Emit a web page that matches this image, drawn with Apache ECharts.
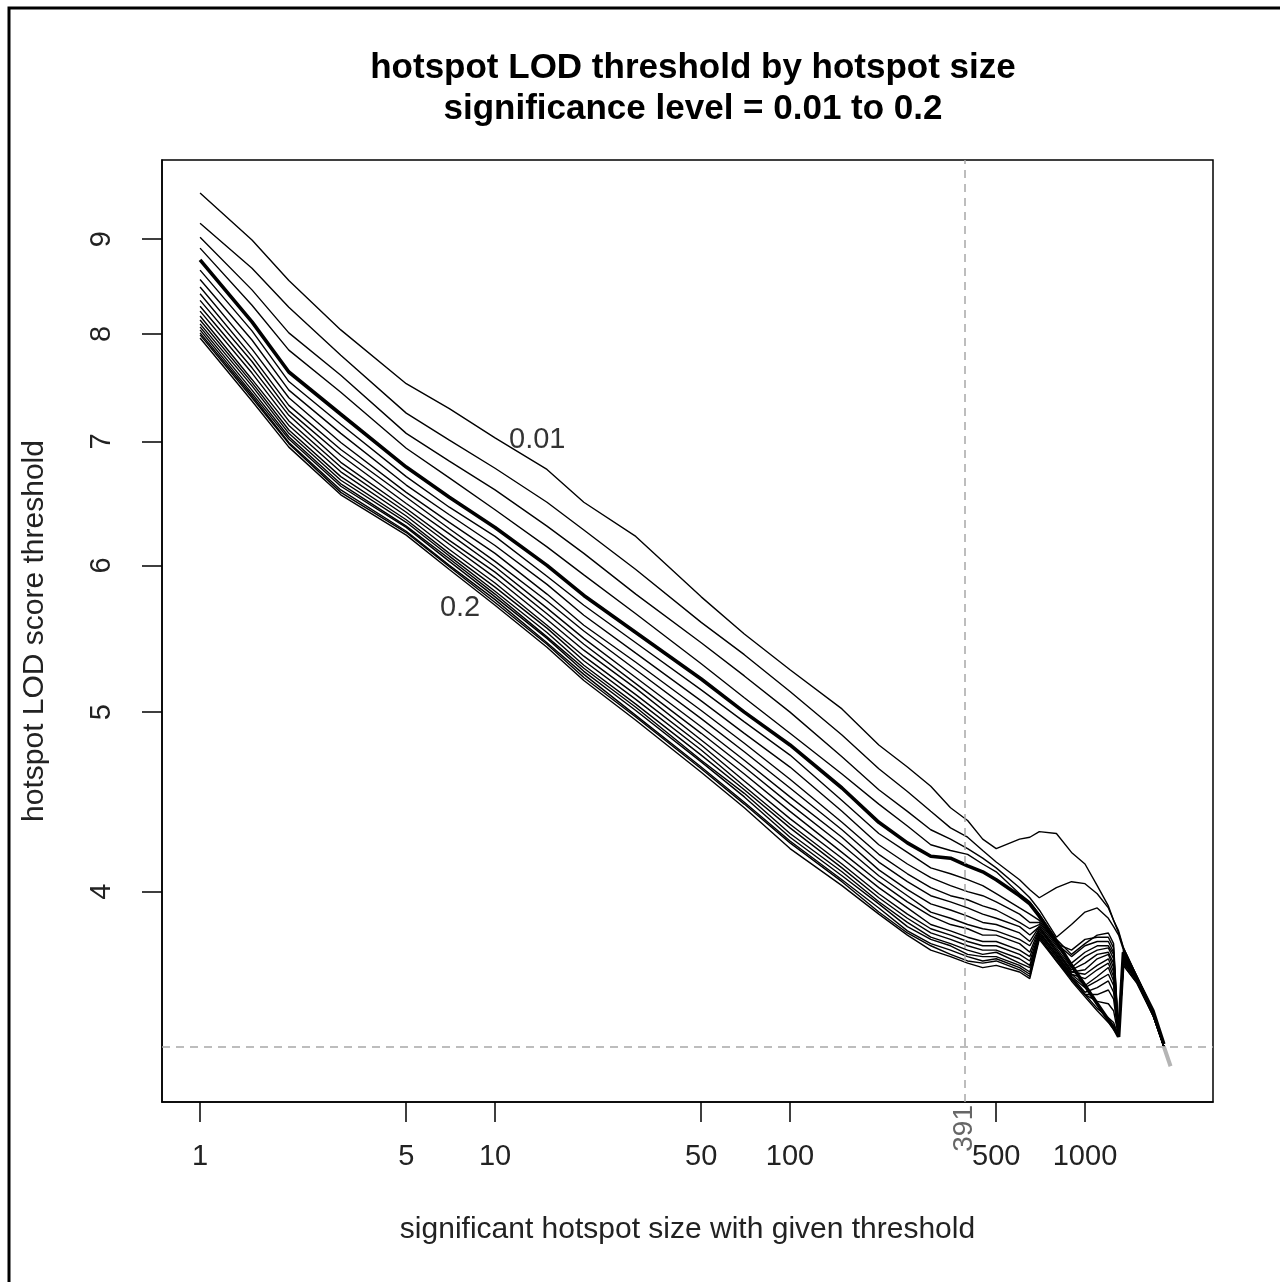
<!DOCTYPE html>
<html>
<head>
<meta charset="utf-8">
<title>hotspot LOD threshold by hotspot size</title>
<script src="https://cdn.jsdelivr.net/npm/echarts@6.0.0/dist/echarts.min.js"></script>
<style>
    html, body { margin: 0; padding: 0; background: #fff; }
    #chart { width: 1280px; height: 1282px; }
</style>
</head>
<body>
<div id="chart"></div>
<script>
// hotspot sizes (x) shared by every curve
var sizes = [1, 1.5, 2, 3, 5, 7, 10, 15, 20, 30, 50, 70, 100, 150, 200, 250, 300, 350, 400, 450, 500,
             600, 650, 700, 800, 900, 1000, 1100, 1200, 1250, 1300, 1350, 1500, 1700, 1850];

var levels = ['0.01', '0.02', '0.03', '0.04', '0.05', '0.06', '0.07', '0.08', '0.09', '0.10',
              '0.11', '0.12', '0.13', '0.14', '0.15', '0.16', '0.17', '0.18', '0.19', '0.20'];

// LOD threshold for each significance level
var lod01 = [9.53, 8.99, 8.55, 8.04, 7.52, 7.29, 7.03, 6.76, 6.49, 6.22, 5.77, 5.51, 5.27, 5.02, 4.80, 4.67, 4.56, 4.44, 4.37, 4.27, 4.22, 4.27, 4.28, 4.31, 4.30, 4.20, 4.14, 4.03, 3.93, 3.86, 3.81, 3.73, 3.60, 3.45, 3.31];
var lod02 = [9.18, 8.68, 8.27, 7.79, 7.25, 7.01, 6.77, 6.49, 6.27, 5.97, 5.59, 5.37, 5.13, 4.86, 4.66, 4.53, 4.42, 4.33, 4.28, 4.21, 4.15, 4.06, 4.01, 3.97, 4.02, 4.05, 4.04, 3.99, 3.92, 3.86, 3.80, 3.73, 3.60, 3.45, 3.31];
var lod03 = [9.02, 8.45, 8.01, 7.60, 7.07, 6.83, 6.59, 6.30, 6.09, 5.79, 5.45, 5.23, 5.00, 4.73, 4.54, 4.42, 4.32, 4.27, 4.22, 4.17, 4.12, 4.02, 3.97, 3.91, 3.78, 3.84, 3.90, 3.92, 3.87, 3.83, 3.79, 3.72, 3.60, 3.45, 3.31];
var lod04 = [8.90, 8.29, 7.84, 7.44, 6.94, 6.69, 6.43, 6.14, 5.93, 5.65, 5.31, 5.09, 4.87, 4.63, 4.46, 4.34, 4.24, 4.21, 4.19, 4.14, 4.10, 3.99, 3.95, 3.89, 3.77, 3.70, 3.75, 3.79, 3.80, 3.75, 3.35, 3.72, 3.59, 3.45, 3.31];
var lod05 = [8.77, 8.12, 7.63, 7.24, 6.78, 6.53, 6.29, 6.00, 5.78, 5.52, 5.21, 5.00, 4.80, 4.55, 4.36, 4.25, 4.18, 4.17, 4.13, 4.10, 4.06, 3.98, 3.94, 3.88, 3.76, 3.65, 3.56, 3.48, 3.41, 3.38, 3.34, 3.71, 3.59, 3.45, 3.31];
var lod06 = [8.66, 8.03, 7.54, 7.15, 6.70, 6.45, 6.22, 5.92, 5.71, 5.45, 5.14, 4.94, 4.74, 4.48, 4.30, 4.20, 4.12, 4.09, 4.06, 4.03, 3.99, 3.92, 3.89, 3.86, 3.75, 3.72, 3.77, 3.78, 3.78, 3.73, 3.35, 3.71, 3.59, 3.44, 3.30];
var lod07 = [8.56, 7.94, 7.46, 7.07, 6.63, 6.39, 6.15, 5.86, 5.64, 5.38, 5.07, 4.87, 4.67, 4.42, 4.24, 4.14, 4.07, 4.03, 4.00, 3.98, 3.95, 3.89, 3.85, 3.85, 3.75, 3.69, 3.74, 3.76, 3.76, 3.71, 3.35, 3.71, 3.59, 3.44, 3.30];
var lod08 = [8.48, 7.85, 7.39, 6.99, 6.57, 6.33, 6.09, 5.79, 5.57, 5.32, 5.01, 4.81, 4.60, 4.36, 4.19, 4.09, 4.02, 3.98, 3.96, 3.93, 3.91, 3.85, 3.82, 3.84, 3.74, 3.66, 3.71, 3.74, 3.74, 3.70, 3.35, 3.70, 3.59, 3.44, 3.30];
var lod09 = [8.41, 7.78, 7.32, 6.93, 6.53, 6.28, 6.03, 5.74, 5.53, 5.27, 4.96, 4.76, 4.55, 4.32, 4.15, 4.05, 3.98, 3.95, 3.92, 3.89, 3.87, 3.83, 3.79, 3.83, 3.73, 3.64, 3.69, 3.72, 3.73, 3.68, 3.35, 3.70, 3.59, 3.44, 3.30];
var lod10 = [8.34, 7.73, 7.27, 6.88, 6.48, 6.24, 5.99, 5.69, 5.48, 5.22, 4.91, 4.71, 4.50, 4.28, 4.11, 4.01, 3.94, 3.91, 3.88, 3.85, 3.84, 3.80, 3.76, 3.83, 3.72, 3.63, 3.66, 3.70, 3.71, 3.66, 3.35, 3.70, 3.59, 3.44, 3.30];
var lod11 = [8.28, 7.67, 7.23, 6.82, 6.44, 6.19, 5.95, 5.65, 5.44, 5.18, 4.87, 4.67, 4.46, 4.24, 4.08, 3.98, 3.90, 3.87, 3.84, 3.82, 3.81, 3.77, 3.74, 3.82, 3.72, 3.62, 3.63, 3.68, 3.70, 3.64, 3.35, 3.69, 3.59, 3.44, 3.30];
var lod12 = [8.23, 7.62, 7.18, 6.78, 6.41, 6.16, 5.91, 5.61, 5.40, 5.15, 4.83, 4.63, 4.42, 4.20, 4.05, 3.95, 3.88, 3.84, 3.82, 3.79, 3.79, 3.75, 3.71, 3.82, 3.71, 3.62, 3.61, 3.65, 3.68, 3.62, 3.34, 3.69, 3.59, 3.44, 3.30];
var lod13 = [8.18, 7.56, 7.14, 6.74, 6.38, 6.12, 5.87, 5.57, 5.36, 5.11, 4.80, 4.59, 4.38, 4.17, 4.02, 3.92, 3.84, 3.81, 3.78, 3.76, 3.76, 3.72, 3.69, 3.81, 3.70, 3.61, 3.59, 3.63, 3.66, 3.60, 3.34, 3.68, 3.58, 3.44, 3.30];
var lod14 = [8.14, 7.53, 7.10, 6.70, 6.35, 6.09, 5.84, 5.55, 5.33, 5.08, 4.77, 4.56, 4.35, 4.14, 3.99, 3.89, 3.82, 3.79, 3.76, 3.74, 3.74, 3.70, 3.67, 3.80, 3.70, 3.61, 3.56, 3.60, 3.64, 3.58, 3.34, 3.68, 3.58, 3.44, 3.30];
var lod15 = [8.10, 7.50, 7.07, 6.67, 6.33, 6.07, 5.81, 5.52, 5.30, 5.05, 4.74, 4.54, 4.33, 4.12, 3.97, 3.87, 3.80, 3.77, 3.74, 3.72, 3.72, 3.68, 3.65, 3.80, 3.70, 3.60, 3.55, 3.58, 3.61, 3.56, 3.34, 3.67, 3.58, 3.44, 3.30];
var lod16 = [8.07, 7.46, 7.04, 6.64, 6.30, 6.05, 5.79, 5.49, 5.28, 5.03, 4.71, 4.52, 4.30, 4.10, 3.95, 3.85, 3.78, 3.75, 3.72, 3.70, 3.71, 3.66, 3.64, 3.79, 3.69, 3.60, 3.53, 3.55, 3.58, 3.53, 3.34, 3.67, 3.58, 3.43, 3.30];
var lod17 = [8.04, 7.43, 7.02, 6.62, 6.29, 6.03, 5.77, 5.48, 5.26, 5.01, 4.70, 4.50, 4.28, 4.08, 3.94, 3.83, 3.77, 3.74, 3.70, 3.69, 3.69, 3.65, 3.62, 3.79, 3.69, 3.59, 3.52, 3.52, 3.54, 3.50, 3.34, 3.66, 3.58, 3.43, 3.30];
var lod18 = [8.01, 7.41, 6.99, 6.59, 6.26, 6.00, 5.75, 5.45, 5.24, 4.98, 4.67, 4.47, 4.26, 4.06, 3.92, 3.81, 3.75, 3.72, 3.69, 3.67, 3.68, 3.64, 3.61, 3.78, 3.68, 3.59, 3.52, 3.49, 3.48, 3.45, 3.34, 3.66, 3.58, 3.43, 3.30];
var lod19 = [7.99, 7.39, 6.98, 6.57, 6.25, 5.99, 5.73, 5.44, 5.22, 4.97, 4.66, 4.46, 4.25, 4.05, 3.90, 3.80, 3.74, 3.70, 3.67, 3.66, 3.67, 3.63, 3.60, 3.78, 3.67, 3.59, 3.52, 3.46, 3.42, 3.40, 3.34, 3.65, 3.57, 3.43, 3.30];
var lod20 = [7.96, 7.36, 6.95, 6.55, 6.23, 5.97, 5.71, 5.42, 5.20, 4.95, 4.64, 4.44, 4.22, 4.03, 3.89, 3.79, 3.72, 3.69, 3.66, 3.64, 3.65, 3.62, 3.59, 3.77, 3.67, 3.58, 3.51, 3.45, 3.40, 3.37, 3.34, 3.65, 3.57, 3.43, 3.30];

// grey end piece after the curves join
var tailSizes = [1850, 1950];
var tailLod = [3.30, 3.22];

var xTicks = [1, 5, 10, 50, 100, 500, 1000];
var yTicks = [4, 5, 6, 7, 8, 9];
var markedSize = 391;
var baseLod = 3.3;

// curve labels: [size, lod, text]
var curveLabels = [[13.9, 7.01, '0.01'], [7.61, 5.69, '0.2']];

var FONT = "'Liberation Sans', Arial, Helvetica, sans-serif";

var chart = echarts.init(document.getElementById('chart'));

var allLod = [lod01, lod02, lod03, lod04, lod05, lod06, lod07, lod08, lod09, lod10,
              lod11, lod12, lod13, lod14, lod15, lod16, lod17, lod18, lod19, lod20];

var series = [];
for (var k = 0; k < allLod.length; k++) {
    var vals = allLod[k];
    var pts = [];
    for (var i = 0; i < vals.length; i++) {
        pts.push([sizes[i], vals[i]]);
    }
    series.push({
        name: levels[k],
        type: 'line',
        symbol: 'none',
        silent: true,
        data: pts,
        z: k === 4 ? 4 : 2,
        lineStyle: { color: '#000', width: k === 4 ? 3.6 : 1.4 }
    });
}

var tailPts = [];
for (var j = 0; j < tailSizes.length; j++) {
    tailPts.push([tailSizes[j], tailLod[j]]);
}
series.push({
    name: 'tail',
    type: 'line',
    symbol: 'none',
    silent: true,
    data: tailPts,
    z: 5,
    lineStyle: { color: '#b4b4b4', width: 4 },
    markLine: {
        silent: true,
        symbol: ['none', 'none'],
        label: { show: false },
        lineStyle: { color: '#a8a8a8', width: 1.5, type: [8, 6] },
        data: [{ xAxis: markedSize }, { yAxis: baseLod }]
    }
});

series.push({
    name: 'labels',
    type: 'scatter',
    symbolSize: 0,
    silent: true,
    z: 6,
    data: curveLabels,
    label: {
        show: true,
        position: 'inside',
        formatter: function (p) { return p.value[2]; },
        fontSize: 29,
        fontFamily: FONT,
        color: '#000'
    }
});

var axisLineStyle = { color: '#000', width: 1.5 };

var option = {
    animation: false,
    backgroundColor: '#fff',
    title: {
        text: 'hotspot LOD threshold by hotspot size\nsignificance level = 0.01 to 0.2',
        left: 688,
        top: 43,
        textAlign: 'center',
        textStyle: {
            fontSize: 35,
            fontWeight: 'bold',
            lineHeight: 41,
            color: '#000',
            fontFamily: FONT
        }
    },
    graphic: [{
        type: 'polyline',
        silent: true,
        shape: { points: [[9, 1282], [9, 8], [1280, 8]] },
        style: { stroke: '#000', lineWidth: 3, fill: null }
    }],
    grid: {
        left: 162,
        right: 67,
        top: 160,
        bottom: 180,
        show: true,
        borderColor: '#000',
        borderWidth: 1.5,
        backgroundColor: 'transparent',
        outerBoundsMode: 'none'
    },
    xAxis: [{
        type: 'log',
        min: 0.743,
        max: 2716,
        position: 'bottom',
        name: 'significant hotspot size with given threshold',
        nameLocation: 'middle',
        nameGap: 113,
        nameTextStyle: { fontSize: 30, color: '#222', fontFamily: FONT },
        axisLine: { show: true, lineStyle: axisLineStyle },
        axisTick: { show: true, customValues: xTicks, length: 20, lineStyle: axisLineStyle },
        axisLabel: {
            customValues: xTicks,
            formatter: function (v) { return String(v); },
            fontSize: 29,
            margin: 40,
            color: '#222',
            fontFamily: FONT
        },
        splitLine: { show: false },
        minorTick: { show: false }
    }, {
        type: 'log',
        min: 0.743,
        max: 2716,
        position: 'bottom',
        axisLine: { show: false },
        axisTick: { show: false },
        axisLabel: {
            customValues: [markedSize],
            formatter: function (v) { return String(v); },
            rotate: 90,
            fontSize: 28,
            margin: 3,
            color: '#666',
            fontFamily: FONT
        },
        splitLine: { show: false }
    }],
    yAxis: {
        type: 'log',
        min: 3.08,
        max: 9.93,
        name: 'hotspot LOD score threshold',
        nameLocation: 'middle',
        nameGap: 112,
        nameTextStyle: { fontSize: 30, color: '#222', fontFamily: FONT },
        axisLine: { show: true, lineStyle: axisLineStyle },
        axisTick: { show: true, customValues: yTicks, length: 20, lineStyle: axisLineStyle },
        axisLabel: { customValues: yTicks, rotate: 90, fontSize: 29, margin: 46, color: '#222', fontFamily: FONT },
        splitLine: { show: false },
        minorTick: { show: false }
    },
    series: series
};

chart.setOption(option);
</script>
</body>
</html>
